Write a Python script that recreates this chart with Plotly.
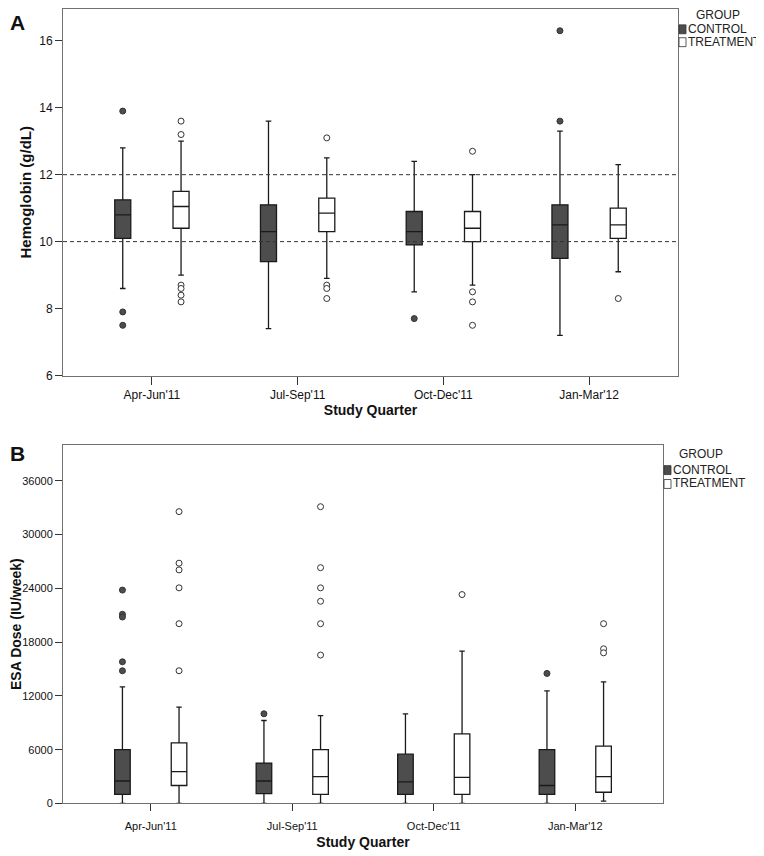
import numpy as np
import plotly.graph_objects as go

quarters = ["Apr-Jun'11", "Jul-Sep'11", "Oct-Dec'11", "Jan-Mar'12"]

# Panel A - hemoglobin (g/dL)
hb_ctrl_low = [8.6, 7.4, 8.5, 7.2]
hb_ctrl_q1 = [10.1, 9.4, 9.9, 9.5]
hb_ctrl_med = [10.8, 10.3, 10.3, 10.5]
hb_ctrl_q3 = [11.25, 11.1, 10.9, 11.1]
hb_ctrl_high = [12.8, 13.6, 12.4, 13.3]
hb_ctrl_out = [[13.9, 7.9, 7.5], [], [7.7], [16.3, 13.6]]

hb_trt_low = [9.0, 8.9, 8.7, 9.1]
hb_trt_q1 = [10.4, 10.3, 10.0, 10.1]
hb_trt_med = [11.05, 10.85, 10.4, 10.5]
hb_trt_q3 = [11.5, 11.3, 10.9, 11.0]
hb_trt_high = [13.0, 12.5, 12.0, 12.3]
hb_trt_out = [[13.6, 13.2, 8.7, 8.6, 8.4, 8.2], [13.1, 8.7, 8.6, 8.3], [12.7, 8.5, 8.2, 7.5], [8.3]]

# Panel B - ESA dose (IU/week)
esa_ctrl_low = [0, 0, 0, 0]
esa_ctrl_q1 = [1000, 1100, 1000, 1000]
esa_ctrl_med = [2500, 2500, 2400, 2000]
esa_ctrl_q3 = [6000, 4500, 5500, 6000]
esa_ctrl_high = [13000, 9250, 10000, 12550]
esa_ctrl_out = [[23800, 21100, 20800, 15800, 14800], [10000], [], [14500]]

esa_trt_low = [0, 0, 0, 250]
esa_trt_q1 = [2000, 1000, 1000, 1250]
esa_trt_med = [3550, 3000, 2900, 3000]
esa_trt_q3 = [6750, 6000, 7750, 6400]
esa_trt_high = [10750, 9800, 17000, 13550]
esa_trt_out = [[32550, 26800, 26050, 24050, 20050, 14800],
               [33100, 26300, 24050, 22550, 20050, 16550],
               [23300], [20050, 17250, 16800]]

# page body has an 8px margin, so the figure is a bit smaller and positions are page pixels
OFF = 8
W, H = 764 - OFF, 856 - OFF
FONT = "Arial, Liberation Sans, sans-serif"
CTRL = "#4d4d4d"
LINE = "#1a1a1a"


def px(x):
    return (x - OFF) / W


def py(y):
    return 1 - (y - OFF) / H


idx = np.arange(len(quarters))
dodge = 0.2

fig = go.Figure()


def add_group(xa, ya, pos, low, q1, med, q3, high, out, fill, filled):
    fig.add_trace(go.Box(x=pos, q1=q1, median=med, q3=q3, lowerfence=low, upperfence=high,
                         xaxis=xa, yaxis=ya, fillcolor=fill,
                         line=dict(color=LINE, width=1.3),
                         width=0.11, whiskerwidth=0.35, boxpoints=False,
                         showlegend=False, hoverinfo="skip"))
    ox = [p for p, vals in zip(pos, out) for _ in vals]
    oy = [v for vals in out for v in vals]
    fig.add_trace(go.Scatter(x=ox, y=oy, mode="markers", xaxis=xa, yaxis=ya,
                             marker=dict(size=6, color=CTRL if filled else "white",
                                         line=dict(color="#333", width=1)),
                             showlegend=False, hoverinfo="skip"))


add_group("x", "y", idx - dodge, hb_ctrl_low, hb_ctrl_q1, hb_ctrl_med, hb_ctrl_q3, hb_ctrl_high,
          hb_ctrl_out, CTRL, True)
add_group("x", "y", idx + dodge, hb_trt_low, hb_trt_q1, hb_trt_med, hb_trt_q3, hb_trt_high,
          hb_trt_out, "white", False)
add_group("x2", "y2", idx - dodge, esa_ctrl_low, esa_ctrl_q1, esa_ctrl_med, esa_ctrl_q3, esa_ctrl_high,
          esa_ctrl_out, CTRL, True)
add_group("x2", "y2", idx + dodge, esa_trt_low, esa_trt_q1, esa_trt_med, esa_trt_q3, esa_trt_high,
          esa_trt_out, "white", False)

axis_common = dict(showline=True, mirror=True, linecolor="#707070", linewidth=1,
                   ticks="outside", tickcolor="#333", showgrid=False, zeroline=False)

fig.update_layout(
    width=W, height=H, margin=dict(l=0, r=0, t=0, b=0),
    paper_bgcolor="white", plot_bgcolor="white",
    font=dict(family=FONT, color="#111"),
    xaxis=dict(domain=[px(63), px(678)], anchor="y", range=[-0.61, 3.61],
               tickvals=idx, ticktext=quarters, tickfont=dict(size=12), ticklen=8,
               title=dict(text="<b>Study Quarter</b>", font=dict(size=14), standoff=2),
               **axis_common),
    yaxis=dict(domain=[py(378), py(OFF)], anchor="x", range=[6, 16.95],
               tickvals=[6, 8, 10, 12, 14, 16], tickfont=dict(size=12), ticklen=7,
               title=dict(text="<b>Hemoglobin (g/dL)</b>", font=dict(size=15), standoff=3),
               **axis_common),
    xaxis2=dict(domain=[px(63), px(663)], anchor="y2", range=[-0.62, 3.62],
                tickvals=idx, ticktext=quarters, tickfont=dict(size=11), ticklen=7,
                ticklabelstandoff=5,
                title=dict(text="<b>Study Quarter</b>", font=dict(size=14), standoff=6),
                **axis_common),
    yaxis2=dict(domain=[py(810), py(448)], anchor="x2", range=[0, 40000],
                tickvals=list(range(0, 36001, 6000)), tickformat="d", tickfont=dict(size=11),
                ticklen=7,
                title=dict(text="<b>ESA Dose (IU/week)</b>", font=dict(size=14), standoff=0),
                **axis_common),
)

# reference lines at 10 and 12 g/dL
for yv in [10, 12]:
    fig.add_shape(type="line", xref="x domain", yref="y", x0=0, x1=1, y0=yv, y1=yv,
                  line=dict(color="#333", width=1, dash="4px,3px"))

# panel labels
fig.add_annotation(text="<b>A</b>", x=px(OFF), y=1, xref="paper", yref="paper",
                   xanchor="left", yanchor="top", showarrow=False, font=dict(size=21, color="#111"))
fig.add_annotation(text="<b>B</b>", x=px(OFF), y=py(457), xref="paper", yref="paper",
                   xanchor="left", yanchor="middle", showarrow=False, font=dict(size=21, color="#111"))

# legends drawn as text plus swatches
for title_x, sq_x, ys in [(718, 679, (14, 28, 41)), (701, 664, (457, 473, 487))]:
    fig.add_annotation(text="GROUP", x=px(title_x), y=py(ys[0]), xref="paper", yref="paper",
                       xanchor="center", yanchor="middle", showarrow=False, font=dict(size=12, color="#222"))
    for name, col, yy in [("CONTROL", CTRL, ys[1]), ("TREATMENT", "white", ys[2])]:
        fig.add_shape(type="rect", xref="paper", yref="paper",
                      x0=px(sq_x), x1=px(sq_x + 7), y0=py(yy + 5), y1=py(yy - 4),
                      fillcolor=col, line=dict(color="#333", width=0.8))
        fig.add_annotation(text=name, x=px(sq_x + 7), y=py(yy), xref="paper", yref="paper",
                           xanchor="left", yanchor="middle", showarrow=False,
                           font=dict(size=12, color="#222"))

fig.write_html("out.html")
